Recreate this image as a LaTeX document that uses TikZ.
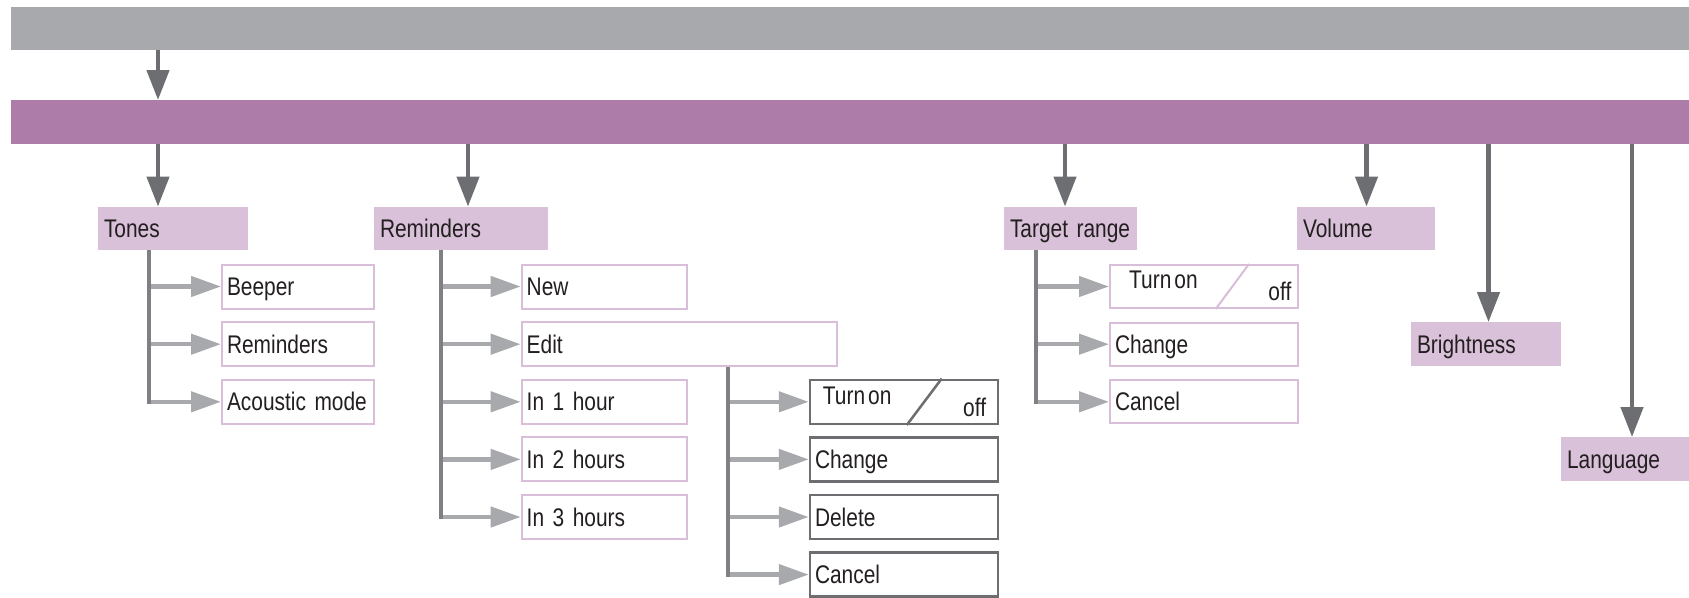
\documentclass[tikz,border=0pt]{standalone}
\usepackage{fontspec}
\setmainfont[FakeStretch=0.82]{Liberation Sans}
\usetikzlibrary{arrows.meta,calc}
\definecolor{grayBar}{HTML}{A7A9AC}
\definecolor{purpBar}{HTML}{AE7CA8}
\definecolor{lpurp}{HTML}{D9C1D9}
\definecolor{lborder}{HTML}{D8BED8}
\definecolor{darkg}{HTML}{6D6E71}
\definecolor{vlinec}{HTML}{7F8083}
\definecolor{blinec}{HTML}{A7A9AC}
\definecolor{txtc}{HTML}{231F20}
\begin{document}
\begin{tikzpicture}[x=1pt,y=-1pt,
  every node/.style={font=\fontsize{25.5}{30}\selectfont, text=txtc},
  barbox/.style={inner sep=0pt, anchor=north west, minimum height=43pt, minimum width=1678pt},
  cat/.style={fill=lpurp, inner xsep=6pt, inner ysep=0pt, minimum height=43.5pt, align=left, text height=18.3pt, text depth=0pt},
  item/.style={draw=lborder, line width=2pt, fill=white, inner xsep=5pt, inner ysep=0pt, minimum height=44pt, align=left, text height=18.3pt, text depth=0pt},
  ditem/.style={item, draw=darkg, line width=2.5pt},
  darrow/.style={draw=darkg, line width=4.5pt, -{Triangle[length=30pt,width=22pt]}},
  barrow/.style={draw=blinec, line width=4.5pt, -{Triangle[length=30pt,width=20pt]}},
  vtree/.style={draw=vlinec, line width=4pt},
  txtonly/.style={inner sep=0pt}
]
\useasboundingbox (0,0) rectangle (1689,597);

% bars
\node[barbox, fill=grayBar] (menu) at (11,7) {};
\node[barbox, fill=purpBar, minimum height=44pt] (settings) at (11,100) {};

% arrow x positions
\coordinate (xa) at (158,0);
\coordinate (xr) at (468,0);
\coordinate (xt) at (1065,0);
\coordinate (xv) at (1366.5,0);
\coordinate (xb) at (1488.5,0);
\coordinate (xl) at (1632,0);
% tree verticals
\coordinate (tv1) at (149,0);
\coordinate (tv2) at (440.5,0);
\coordinate (tv3) at (727.5,0);
\coordinate (tv4) at (1036,0);

% categories
\node[cat, text width=138pt] (tones) at (173,228.5) {Tones};
\node[cat, text width=162pt] (reminders) at (461,228.5) {Reminders};
\node[cat, text width=121pt] (target) at (1070.5,228.5) {Target range};
\node[cat, text width=126pt] (volume) at (1366,228.5) {Volume};
\node[cat, text width=138pt] (bright) at (1486,344) {Brightness};
\node[cat, text width=116pt] (lang) at (1625,459) {Language};

% tones items
\node[item, text width=142pt] (beeper) at (298,286.5) {Beeper};
\node[item, text width=142pt] (trem) at (298,344.2) {Reminders};
\node[item, text width=142pt] (acoustic) at (298,401.8) {Acoustic mode};

% reminders items
\node[item, text width=155pt] (new) at (604.2,286.5) {New};
\node[item, text width=305pt] (edit) at (679.2,344.2) {Edit};
\node[item, text width=155pt] (in1) at (604.2,401.8) {In 1 hour};
\node[item, text width=155pt] (in2) at (604.2,459.4) {In 2 hours};
\node[item, text width=155pt] (in3) at (604.2,517) {In 3 hours};

% edit items
\node[ditem, text width=178pt] (eton) at (904,401.8) {};
\node[ditem, text width=178pt] (echange) at (904,459.4) {Change};
\node[ditem, text width=178pt] (edelete) at (904,517) {Delete};
\node[ditem, text width=178pt] (ecancel) at (904,574.6) {Cancel};
\node[txtonly, anchor=base west] (etonA) at ([xshift=14pt,yshift=-25.5pt]eton.north west) {Turn\hspace{3pt}on};
\node[txtonly, anchor=base east] (etonB) at ([xshift=-13pt,yshift=-37.7pt]eton.north east) {off};
\draw[darkg, line width=2.5pt] ([xshift=98pt]eton.south west) -- ([xshift=133pt]eton.north west);

% target items
\node[item, text width=178pt, minimum height=43pt] (tton) at (1204,286.5) {};
\node[item, text width=178pt, minimum height=43pt] (tchange) at (1204,344.2) {Change};
\node[item, text width=178pt, minimum height=43pt] (tcancel) at (1204,401.8) {Cancel};
\node[txtonly, anchor=base west] (ttonA) at ([xshift=20pt,yshift=-24pt]tton.north west) {Turn\hspace{3pt}on};
\node[txtonly, anchor=base east] (ttonB) at ([xshift=-7.5pt,yshift=-36.7pt]tton.north east) {off};
\draw[lborder, line width=2pt] ([xshift=106.7pt]tton.south west) -- ([xshift=140pt]tton.north west);

% main arrows
\draw[darrow] (menu.south -| xa) -- (settings.north -| xa);
\draw[darrow] (settings.south -| xa) -- (tones.north -| xa);
\draw[darrow] (settings.south -| xr) -- (reminders.north -| xr);
\draw[darrow] (settings.south -| xt) -- (target.north -| xt);
\draw[darrow] (settings.south -| xv) -- (volume.north -| xv);
\draw[darrow] (settings.south -| xb) -- (bright.north -| xb);
\draw[darrow] (settings.south -| xl) -- (lang.north -| xl);

% branches
\foreach \n in {beeper,trem,acoustic} \draw[barrow] (\n.west -| tv1) -- (\n.west);
\foreach \n in {new,edit,in1,in2,in3} \draw[barrow] (\n.west -| tv2) -- (\n.west);
\foreach \n in {eton,echange,edelete,ecancel} \draw[barrow] (\n.west -| tv3) -- (\n.west);
\foreach \n in {tton,tchange,tcancel} \draw[barrow] (\n.west -| tv4) -- (\n.west);

% verticals
\draw[vtree] (tones.south -| tv1) -- ($(acoustic.west -| tv1)+(0,2)$);
\draw[vtree] (reminders.south -| tv2) -- ($(in3.west -| tv2)+(0,2)$);
\draw[vtree] (edit.south -| tv3) -- ($(ecancel.west -| tv3)+(0,2)$);
\draw[vtree] (target.south -| tv4) -- ($(tcancel.west -| tv4)+(0,2)$);
\end{tikzpicture}
\end{document}
